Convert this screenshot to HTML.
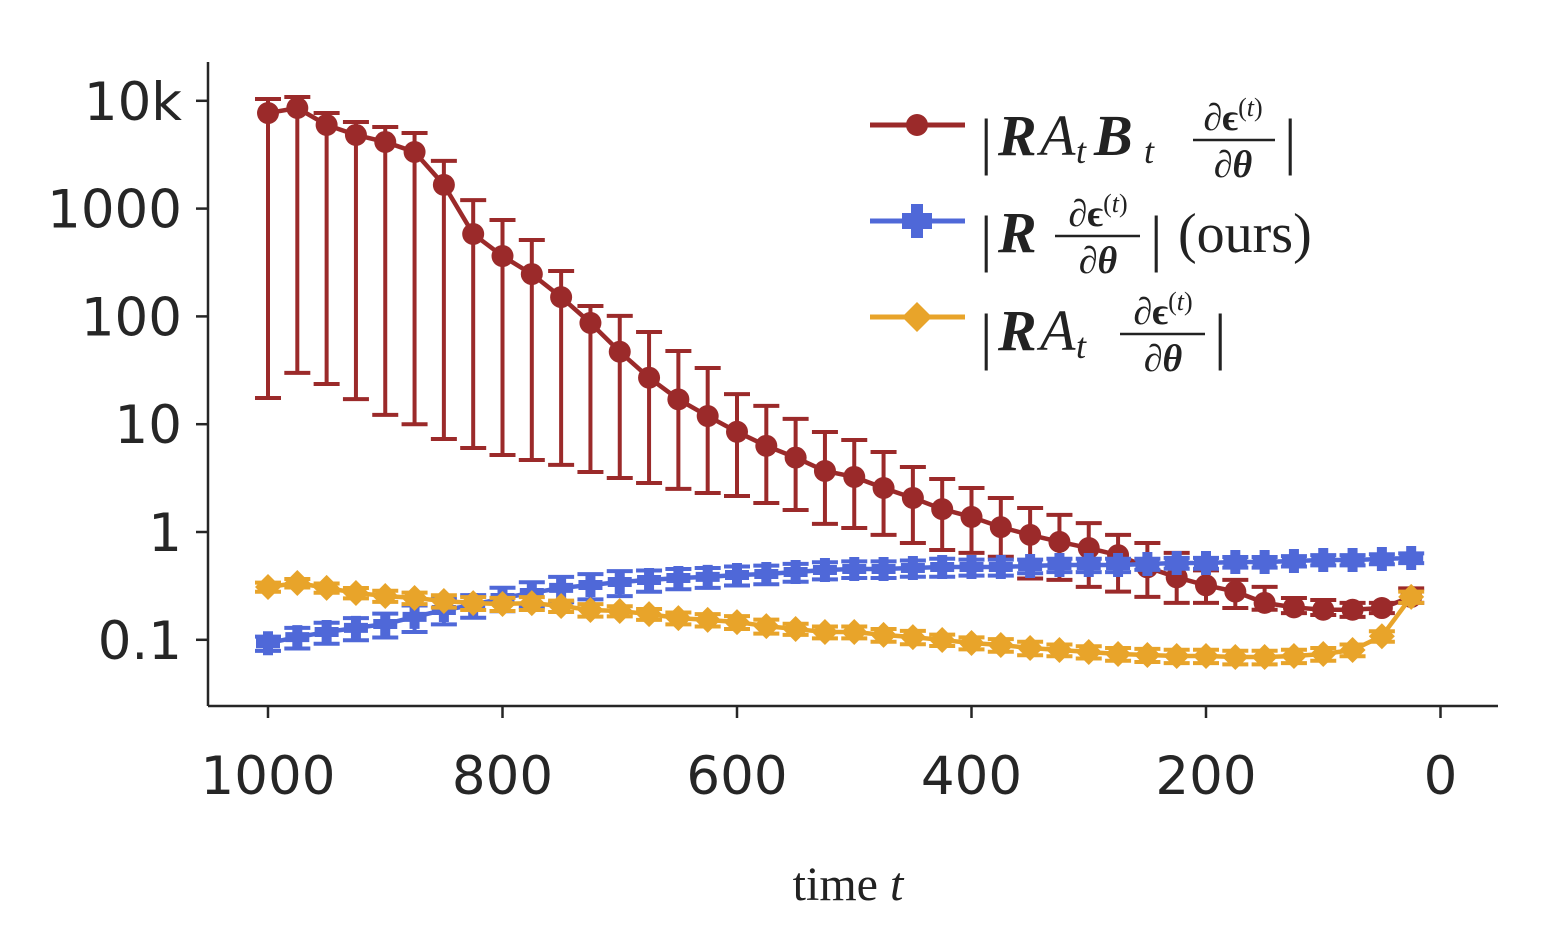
<!DOCTYPE html>
<html><head><meta charset="utf-8"><style>
html,body{margin:0;padding:0;background:#fff;}
svg{display:block;}
.tk{font-family:"DejaVu Sans","Liberation Sans",sans-serif;font-size:53px;fill:#262626;}
.m{font-family:"Liberation Serif","DejaVu Serif",serif;fill:#222;}
</style></head><body>
<svg id="chart" width="1563" height="936" viewBox="0 0 1563 936" xmlns="http://www.w3.org/2000/svg">
<g id="axes"></g>
<g id="series"></g>
<text class="m" x="848" y="900" font-size="48" text-anchor="middle">time <tspan font-style="italic">t</tspan></text>
<g id="legend">
  <g>
    <line x1="870" y1="125" x2="965" y2="125" stroke="#9b2a2a" stroke-width="5"/>
    <circle cx="917" cy="125" r="11" fill="#9b2a2a"/>
    <text class="m" x="980" y="162" font-size="62">|</text>
    <text class="m" x="998" y="155" font-size="58" font-weight="bold" font-style="italic">R</text>
    <text class="m" x="1040" y="155" font-size="58" font-style="italic">A</text>
    <text class="m" x="1076" y="163" font-size="36" font-style="italic">t</text>
    <text class="m" x="1094" y="155" font-size="58" font-weight="bold" font-style="italic">B</text>
    <text class="m" x="1144" y="163" font-size="36" font-style="italic">t</text>
    <text class="m" x="1233" y="130" font-size="38" font-weight="bold" text-anchor="middle">∂ϵ<tspan font-size="26" font-weight="normal" dy="-14">(</tspan><tspan font-size="26" font-weight="normal" font-style="italic">t</tspan><tspan font-size="26" font-weight="normal">)</tspan></text>
    <line x1="1193" y1="140" x2="1275" y2="140" stroke="#222" stroke-width="2.5"/>
    <text class="m" x="1233" y="177" font-size="38" font-weight="bold" font-style="italic" text-anchor="middle">∂θ</text>
    <text class="m" x="1284" y="162" font-size="62">|</text>
  </g>
  <g>
    <line x1="870" y1="221" x2="965" y2="221" stroke="#4f68d8" stroke-width="5"/>
    <rect x="902" y="213" width="30" height="16" fill="#4f68d8"/>
    <rect x="911" y="204" width="12" height="34" fill="#4f68d8"/>
    <text class="m" x="980" y="259" font-size="62">|</text>
    <text class="m" x="998" y="252" font-size="58" font-weight="bold" font-style="italic">R</text>
    <text class="m" x="1098" y="226" font-size="38" font-weight="bold" text-anchor="middle">∂ϵ<tspan font-size="26" font-weight="normal" dy="-14">(</tspan><tspan font-size="26" font-weight="normal" font-style="italic">t</tspan><tspan font-size="26" font-weight="normal">)</tspan></text>
    <line x1="1055" y1="236" x2="1140" y2="236" stroke="#222" stroke-width="2.5"/>
    <text class="m" x="1098" y="273" font-size="38" font-weight="bold" font-style="italic" text-anchor="middle">∂θ</text>
    <text class="m" x="1150" y="259" font-size="62">|</text>
    <text class="m" x="1178" y="252" font-size="56">(ours)</text>
  </g>
  <g>
    <line x1="870" y1="317" x2="965" y2="317" stroke="#e8a42a" stroke-width="5"/>
    <polygon points="917,302 932,317 917,332 902,317" fill="#e8a42a"/>
    <text class="m" x="980" y="357" font-size="62">|</text>
    <text class="m" x="998" y="350" font-size="58" font-weight="bold" font-style="italic">R</text>
    <text class="m" x="1040" y="350" font-size="58" font-style="italic">A</text>
    <text class="m" x="1076" y="358" font-size="36" font-style="italic">t</text>
    <text class="m" x="1163" y="324" font-size="38" font-weight="bold" text-anchor="middle">∂ϵ<tspan font-size="26" font-weight="normal" dy="-14">(</tspan><tspan font-size="26" font-weight="normal" font-style="italic">t</tspan><tspan font-size="26" font-weight="normal">)</tspan></text>
    <line x1="1120" y1="334" x2="1205" y2="334" stroke="#222" stroke-width="2.5"/>
    <text class="m" x="1163" y="371" font-size="38" font-weight="bold" font-style="italic" text-anchor="middle">∂θ</text>
    <text class="m" x="1214" y="357" font-size="62">|</text>
  </g>
</g>
</svg>
<script>
const times = [1000,975,950,925,900,875,850,825,800,775,750,725,700,675,650,625,600,575,550,525,500,475,450,425,400,375,350,325,300,275,250,225,200,175,150,125,100,75,50,25];
const redMean = [7700,8570,5970,4820,4150,3350,1660,581,363,247,151,87,47,27,17,11.9,8.5,6.3,4.9,3.68,3.24,2.56,2.07,1.63,1.38,1.11,0.94,0.81,0.71,0.61,0.47,0.38,0.32,0.28,0.22,0.20,0.19,0.19,0.197,0.25];
const redUpper = [10400,10840,7700,6360,5710,5030,2770,1200,784,511,264,125,101,71.7,47.8,33.2,19.0,14.8,11.2,8.47,7.13,5.52,4.01,3.10,2.56,2.07,1.67,1.44,1.21,0.94,0.79,0.64,0.44,0.36,0.31,0.244,0.234,0.22,0.22,0.30];
const redLower = [17.5,29.9,23.6,17.1,12.2,10.0,7.29,6.01,5.18,4.65,4.19,3.60,3.17,2.85,2.51,2.30,2.16,1.86,1.60,1.19,1.09,0.94,0.79,0.68,0.64,0.59,0.37,0.36,0.31,0.28,0.25,0.22,0.22,0.197,0.19,0.177,0.17,0.163,0.177,0.22];
const blueMean = [0.093,0.106,0.118,0.129,0.140,0.163,0.189,0.210,0.244,0.272,0.303,0.322,0.344,0.359,0.374,0.383,0.399,0.408,0.426,0.444,0.454,0.454,0.464,0.474,0.474,0.474,0.484,0.494,0.494,0.494,0.505,0.516,0.516,0.527,0.527,0.538,0.550,0.550,0.562,0.574];
const blueErr = [0.014,0.023,0.026,0.03,0.035,0.045,0.05,0.05,0.06,0.07,0.08,0.085,0.09,0.08,0.08,0.08,0.08,0.08,0.08,0.08,0.08,0.08,0.08,0.09,0.08,0.08,0.07,0.07,0.07,0.07,0.06,0.06,0.06,0.06,0.06,0.06,0.06,0.06,0.06,0.06];
const orangeMean = [0.309,0.336,0.303,0.272,0.255,0.244,0.229,0.219,0.215,0.219,0.206,0.189,0.185,0.173,0.159,0.153,0.146,0.134,0.126,0.118,0.118,0.111,0.106,0.0996,0.0934,0.0895,0.0839,0.0804,0.0771,0.0739,0.0723,0.0708,0.0708,0.0692,0.0692,0.0708,0.0739,0.0804,0.108,0.25];
const orangeErr = [0.03,0.03,0.03,0.03,0.03,0.03,0.03,0.03,0.03,0.03,0.025,0.025,0.02,0.02,0.02,0.02,0.02,0.02,0.015,0.015,0.015,0.015,0.015,0.012,0.012,0.012,0.012,0.01,0.01,0.01,0.01,0.01,0.01,0.01,0.01,0.01,0.01,0.01,0.012,0.03];
const yTickValues = [0.1,1,10,100,1000,10000];
const yTickLabels = ["0.1","1","10","100","1000","10k"];
const xTickValues = [1000,800,600,400,200,0];

const NS = "http://www.w3.org/2000/svg";
function xScale(t){ return 268 + (1000 - t) * (1172.5/1000); }
function yScale(v){ return 532 - Math.log10(v) * 107.8; }
function mk(tag, attrs, parent){ const e=document.createElementNS(NS,tag); for(const k in attrs) e.setAttribute(k,attrs[k]); parent.appendChild(e); return e; }

const axes = document.getElementById('axes');
const sp1 = mk('line',{x1:208,y1:62,x2:208,y2:706,stroke:'#262626','stroke-width':2.5},axes);


const sp2 = mk('line',{x1:208,y1:706,x2:1498,y2:706,stroke:'#262626','stroke-width':2.5},axes);


yTickValues.forEach((v,i)=>{
  const y=yScale(v);
  const tl = mk('line',{x1:196,y1:y,x2:208,y2:y,stroke:'#262626','stroke-width':2.5},axes);
  
  
  const tx = mk('text',{x:182,y:y+19,'text-anchor':'end',class:'tk'},axes);
  tx.textContent=yTickLabels[i];
  
  
});
xTickValues.forEach(t=>{
  const x=xScale(t);
  const tl = mk('line',{x1:x,y1:706,x2:x,y2:718,stroke:'#262626','stroke-width':2.5},axes);
  
  
  const tx = mk('text',{x:x,y:794,'text-anchor':'middle',class:'tk'},axes);
  tx.textContent=String(t);
  
  
});

const series = document.getElementById('series');
function drawSeries(name,color,mean,lo,hi,marker){
  const g=mk('g',{},series);
  
  
  for(let i=0;i<times.length;i++){
    const x=xScale(times[i]);
    const eb=mk('path',{d:`M${x},${yScale(lo[i])}V${yScale(hi[i])}M${x-13},${yScale(lo[i])}H${x+13}M${x-13},${yScale(hi[i])}H${x+13}`,stroke:color,'stroke-width':4,fill:'none'},g);
    
    
  }
  const pts=times.map((t,i)=>xScale(t)+','+yScale(mean[i])).join(' ');
  const ln=mk('polyline',{points:pts,stroke:color,'stroke-width':4.5,fill:'none'},g);
  
  
  for(let i=0;i<times.length;i++){
    const x=xScale(times[i]), y=yScale(mean[i]);
    let m;
    if(marker==='circle') m=mk('circle',{cx:x,cy:y,r:11,fill:color},g);
    else if(marker==='plus') m=mk('path',{d:`M${x-12},${y}H${x+12}M${x},${y-12}V${y+12}`,stroke:color,'stroke-width':10,fill:'none'},g);
    else m=mk('polygon',{points:`${x},${y-13} ${x+13},${y} ${x},${y+13} ${x-13},${y}`,fill:color},g);
    
    
  }
}
drawSeries('rab','#9b2a2a',redMean,redLower,redUpper,'circle');
drawSeries('ours','#4f68d8',blueMean,blueMean.map((v,i)=>v-blueErr[i]),blueMean.map((v,i)=>v+blueErr[i]),'plus');
drawSeries('ra','#e8a42a',orangeMean,orangeMean.map((v,i)=>v-orangeErr[i]),orangeMean.map((v,i)=>v+orangeErr[i]),'diamond');
</script>
</body></html>
